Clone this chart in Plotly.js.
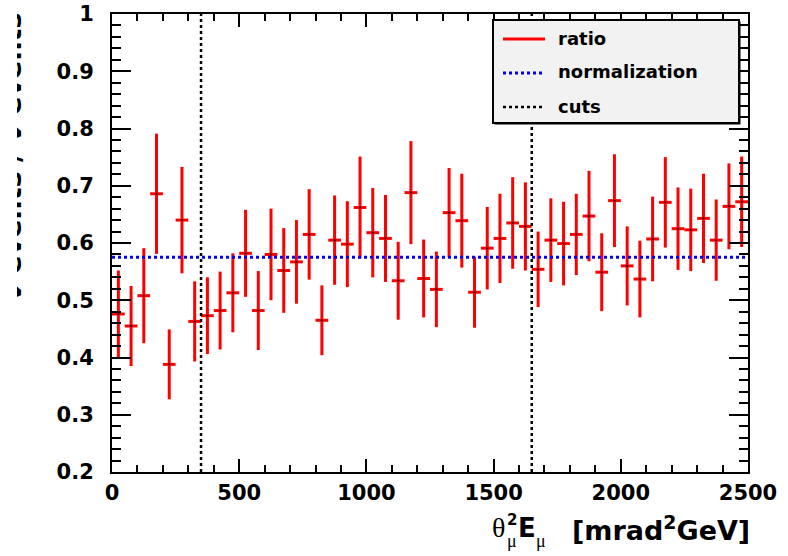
<!DOCTYPE html>
<html>
<head>
<meta charset="utf-8">
<script src="https://cdn.plot.ly/plotly-3.0.1.min.js"></script>
<style>
  html, body { margin: 0; padding: 0; background: #fff; }
  #wrap { position: relative; width: 788px; height: 556px; }
  #chart { width: 788px; height: 556px; }
  #mask { position: absolute; left: 0; top: 0; width: 17px; height: 330px; background: #fff; z-index: 10; }
</style>
</head>
<body>
<div id="wrap">
  <div id="chart"></div>
  <div id="mask"></div>
</div>
<script>
// ---- data ----
const binCenters = [25, 75, 125, 175, 225, 275, 325, 375, 425, 475,
                    525, 575, 625, 675, 725, 775, 825, 875, 925, 975,
                    1025, 1075, 1125, 1175, 1225, 1275, 1325, 1375, 1425, 1475,
                    1525, 1575, 1625, 1675, 1725, 1775, 1825, 1875, 1925, 1975,
                    2025, 2075, 2125, 2175, 2225, 2275, 2325, 2375, 2425, 2475];
const ratio = [0.476, 0.455, 0.508, 0.686, 0.388, 0.640, 0.463, 0.473, 0.482, 0.513,
               0.582, 0.482, 0.580, 0.552, 0.567, 0.615, 0.465, 0.605, 0.598, 0.662,
               0.618, 0.608, 0.534, 0.688, 0.538, 0.519, 0.653, 0.639, 0.514, 0.591,
               0.608, 0.635, 0.629, 0.554, 0.605, 0.599, 0.615, 0.647, 0.549, 0.674,
               0.560, 0.537, 0.607, 0.671, 0.625, 0.623, 0.643, 0.605, 0.664, 0.672];
const ratioErr = [0.076, 0.070, 0.083, 0.105, 0.061, 0.093, 0.070, 0.067, 0.068, 0.069,
                  0.076, 0.069, 0.080, 0.074, 0.073, 0.079, 0.061, 0.078, 0.075, 0.089,
                  0.078, 0.076, 0.068, 0.090, 0.068, 0.066, 0.078, 0.082, 0.062, 0.072,
                  0.078, 0.080, 0.077, 0.066, 0.073, 0.073, 0.071, 0.079, 0.068, 0.081,
                  0.069, 0.067, 0.074, 0.079, 0.072, 0.072, 0.078, 0.071, 0.075, 0.079];
const binHalfWidth = 25;
const normalization = 0.575;
const cuts = [350, 1650];
const xRange = [0, 2500];
const yRange = [0.2, 1.0];
const legendLabels = ['ratio', 'normalization', 'cuts'];

// ---- layout helpers (pixel -> paper) ----
const L = 112, T = 14, W = 636, H = 458;
const px = x => (x - L) / W;
const py = y => (T + H - y) / H;

const RED = '#ff0000', BLUE = '#0000ff', BLACK = '#000000';
const BOLD = {family: 'DejaVu Sans', weight: 'bold', color: '#000'};

const traces = [
  {
    type: 'scatter', mode: 'markers', name: legendLabels[0],
    x: binCenters, y: ratio,
    marker: {size: 2, color: '#000'},
    error_y: {type: 'data', array: ratioErr, visible: true, color: RED, thickness: 3, width: 0},
    error_x: {type: 'constant', value: binHalfWidth, visible: true, color: RED, thickness: 3, width: 0},
    hoverinfo: 'x+y'
  },
  {
    type: 'scatter', mode: 'lines', name: legendLabels[1],
    x: xRange, y: [normalization, normalization],
    line: {color: BLUE, width: 3, dash: 'dot'}
  }
];
cuts.forEach(c => traces.push({
  type: 'scatter', mode: 'lines', name: legendLabels[2],
  x: [c, c], y: yRange,
  line: {color: BLACK, width: 2.5, dash: 'dot'}
}));

// ---- custom ROOT-style legend ----
const lg = {x0: 493, x1: 739, y0: 20, y1: 123};
const rows = [39, 73, 107];
const styles = [
  {color: RED, width: 3, dash: 'solid'},
  {color: BLUE, width: 3, dash: 'dot'},
  {color: BLACK, width: 2.5, dash: 'dot'}
];
const shapes = [
  {type: 'rect', xref: 'paper', yref: 'paper', layer: 'above',
   x0: px(lg.x0 + 1.5), x1: px(lg.x1 + 1.5), y0: py(lg.y1 + 1.5), y1: py(lg.y0 + 1.5),
   fillcolor: '#000', line: {width: 0}},
  {type: 'rect', xref: 'paper', yref: 'paper', layer: 'above',
   x0: px(lg.x0), x1: px(lg.x1), y0: py(lg.y1), y1: py(lg.y0),
   fillcolor: '#f2f2f2', line: {color: '#000', width: 2}}
];
const annotations = [];
rows.forEach((ry, i) => {
  shapes.push({type: 'line', xref: 'paper', yref: 'paper', layer: 'above',
    x0: px(503), x1: px(545), y0: py(ry), y1: py(ry), line: styles[i]});
  annotations.push({xref: 'paper', yref: 'paper', x: px(556), y: py(ry - 1),
    xanchor: 'left', yanchor: 'middle', showarrow: false, text: legendLabels[i],
    font: Object.assign({}, BOLD, {size: 18})});
});

// ---- x axis title (stacked sub/superscripts) ----
const ann = (x, y, text, font, xanchor) => annotations.push({
  xref: 'paper', yref: 'paper', x: px(x), y: py(y), xanchor: xanchor || 'left', yanchor: 'middle',
  showarrow: false, text: text, font: font, borderpad: 0
});
ann(491, 527, 'θ', {family: 'Liberation Serif', size: 28, color: '#000'});
ann(506, 520, '2', Object.assign({}, BOLD, {size: 15}));
ann(506, 541, 'μ', {family: 'Liberation Serif', size: 18, color: '#000'});
ann(517, 528, 'E', Object.assign({}, BOLD, {size: 26}));
ann(535, 541, 'μ', {family: 'Liberation Serif', size: 18, color: '#000'});
ann(751, 528, '[mrad<sup>2</sup>GeV]', Object.assign({}, BOLD, {size: 27}), 'right');

// ---- y axis title (cut off by the canvas edge in the reference) ----
annotations.push({xref: 'paper', yref: 'paper', x: px(28), y: py(157),
  xanchor: 'right', yanchor: 'middle', showarrow: false, textangle: -90,
  text: 'ν events / ν events', font: Object.assign({}, BOLD, {size: 27})});

const axisCommon = {
  showgrid: false, zeroline: false, showline: true, linecolor: '#000', linewidth: 2,
  mirror: 'ticks', ticks: 'inside', tickcolor: '#000', tickwidth: 2,
  tickfont: Object.assign({}, BOLD, {size: 21})
};

const layout = {
  width: 788, height: 556,
  margin: {l: L, r: 788 - L - W, t: T, b: 556 - T - H, pad: 0},
  paper_bgcolor: '#fff', plot_bgcolor: '#fff',
  showlegend: false,
  xaxis: Object.assign({}, axisCommon, {
    range: xRange, tick0: 0, dtick: 500, ticklen: 13, ticklabelstandoff: 1,
    minor: {dtick: 100, ticklen: 7, tickwidth: 2, tickcolor: '#000', ticks: 'inside'}
  }),
  yaxis: Object.assign({}, axisCommon, {
    range: yRange, tick0: 0, dtick: 0.1, ticklen: 19, ticklabelstandoff: 12,
    minor: {dtick: 0.02, ticklen: 9, tickwidth: 2, tickcolor: '#000', ticks: 'inside'}
  }),
  shapes: shapes,
  annotations: annotations
};

Plotly.newPlot('chart', traces, layout, {displayModeBar: false, staticPlot: true});
</script>
</body>
</html>
